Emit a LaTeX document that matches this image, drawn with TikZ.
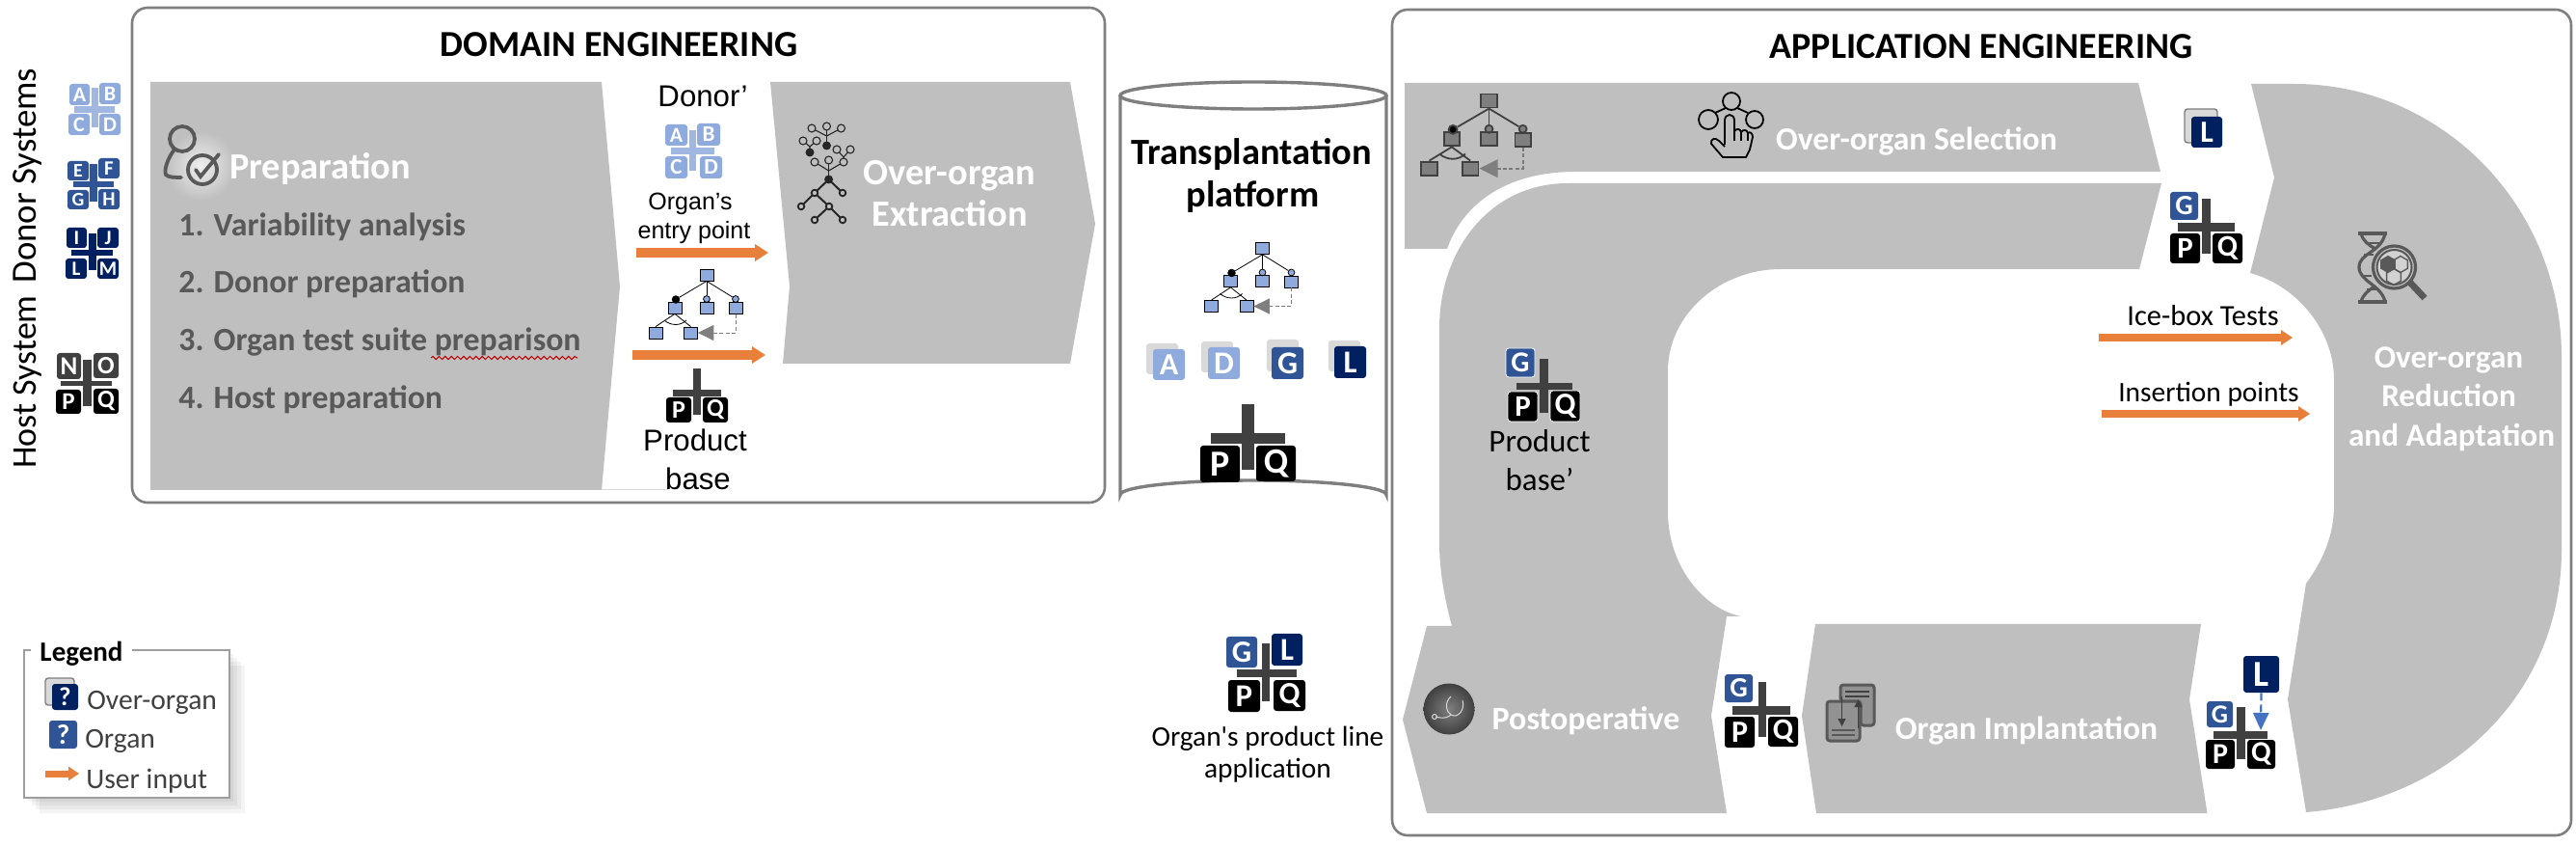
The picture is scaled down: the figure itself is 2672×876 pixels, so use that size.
\documentclass[tikz,border=0pt]{standalone}
\usepackage{fontspec}
\setmainfont{Carlito}
\newfontfamily\arialf{Liberation Sans}
\usetikzlibrary{arrows.meta,decorations.pathmorphing}
\definecolor{bandgray}{HTML}{BFBFBF}
\definecolor{boxgray}{HTML}{7F7F7F}
\definecolor{lblue}{HTML}{8FAADC}
\definecolor{mblue}{HTML}{2F5597}
\definecolor{dblue}{HTML}{002060}
\definecolor{crossdk}{HTML}{404040}
\definecolor{orangea}{HTML}{E8803C}
\definecolor{icondk}{HTML}{595959}
\definecolor{ghost}{HTML}{D9D9D9}
\definecolor{arrblue}{HTML}{4472C4}
\tikzset{
  txt/.style={anchor=base,inner sep=0pt,align=center},
  band/.style={fill=bandgray,draw=none},
  frame/.style={draw=boxgray,line width=1.3pt,rounded corners=8pt},
  tiletype/.style={inner sep=0pt,rounded corners=1.5pt,text=white,font=\bfseries}
}
\newcommand\fz[1]{\fontsize{#1}{#1}\selectfont}
% [extra]{name}{x1}{y1}{x2}{y2}{colour}{letter}
\newcommand\tile[8][]{%
  \pgfmathsetmacro\tw{(#5-#3)*0.5}\pgfmathsetmacro\th{(#6-#4)*0.5}%
  \pgfmathsetmacro\tf{(#6-#4)*0.5}%
  \node[tiletype,fill=#7,minimum width=\tw pt,minimum height=\th pt,#1] (#2) at ({(#3+#5)/2},{(#4+#6)/2}) {\fz{\tf}#8};}
% colour, vertical bar x1 y1 x2 y2, horizontal bar x1 y1 x2 y2
\newcommand\crossbars[9]{%
  \fill[#1] (#2,#3) rectangle (#4,#5);
  \fill[#1] (#6,#7) rectangle (#8,#9);}
% name x1 x2 y shaft headlen headwidth (pt)
\newcommand\oarrow[7]{%
  \coordinate (#1a) at (#2,#4); \coordinate (#1b) at (#3,#4);
  \draw[orangea,line width=#5pt,-{Triangle[length=#6pt,width=#7pt]}] (#1a) -- (#1b);}
% prefix x y scale fill stroke lw
\newcommand\featdiag[7]{%
  \pgfmathsetmacro\fdl{#4*8.2}\pgfmathsetmacro\fdw{#4*8}%
  \begin{scope}[shift={(#2,#3)},scale=#4,transform shape]
    \tikzset{fb/.style={draw=#6,fill=#5,line width=#7,minimum width=7pt,minimum height=6pt,inner sep=0pt},
             fp/.style={draw=#6,circle,line width=#7,minimum size=3.4pt,inner sep=0pt}}
    \node[fb] (#1r) at (0,0) {};
    \node[fb] (#1a) at (-33,34) {};
    \node[fb] (#1b) at (0,34) {};
    \node[fb] (#1c) at (30,34.5) {};
    \node[fb] (#1d) at (-53,60) {};
    \node[fb] (#1e) at (-16.5,60) {};
    \node[fp,fill=black,minimum size=3.8pt] (#1p) at (-32,25.5) {};
    \node[fp,fill=#5] (#1q) at (0,25) {};
    \node[fp,fill=#5] (#1s) at (30,25) {};
    \draw[#6,line width=#7] (#1r.south) -- (#1p);
    \draw[#6,line width=#7] (#1r.south) -- (#1q);
    \draw[#6,line width=#7] (#1r.south) -- (#1s);
    \draw[#6,line width=#7] (#1q) -- (#1b);
    \draw[#6,line width=#7] (#1s) -- (#1c);
    \draw[#6,line width=#7] (#1a.south) -- (#1d.north);
    \draw[#6,line width=#7] (#1a.south) -- (#1e.north);
    \draw[#6,line width=#7] (-44,47) .. controls (-37,53) and (-27,53) .. (-21,47);
    \draw[icondk!80,line width=#7,dash pattern=on 2pt off 1.2pt,-{Triangle[length=\fdl pt,width=\fdw pt,color=boxgray]}]
      (#1c.south) |- (#1e.east);
  \end{scope}}
\newcommand\hexa[4]{\draw[#4,shift={(#1,#2)}] (30:#3)--(90:#3)--(150:#3)--(210:#3)--(270:#3)--(330:#3)--cycle;}
\begin{document}
\begin{tikzpicture}[x=0.5pt,y=-0.5pt]
\useasboundingbox (0,0) rectangle (2672,876);
\fill[white] (0,0) rectangle (2672,876);

% ---- frames
\draw[frame] (137,8) rectangle (1146,521);
\draw[frame] (1444,10) rectangle (2667,866);
\node[txt,font=\bfseries\fz{19}] (domtitle) at (642,59) {DOMAIN ENGINEERING};
\node[txt,font=\bfseries\fz{19}] (apptitle) at (2055,61) {APPLICATION ENGINEERING};

% ---- left labels
\node[txt,rotate=90,font=\fz{18.4}] (donors) at (37,182) {Donor Systems};
\node[txt,rotate=90,font=\fz{18}] (hosts) at (37,396) {Host System};

\crossbars{lblue!85!white}{95}{91}{102}{132}{77}{110}{119}{117}
\tile{ta}{72}{87}{93}{109}{lblue}{A}
\tile{tb}{103}{86}{125}{108}{lblue}{B}
\tile{tc}{71}{118}{93}{140}{lblue}{C}
\tile{td}{103}{118}{125}{140}{lblue}{D}
\crossbars{mblue}{93}{170}{101}{209}{76}{188}{118}{194}
\tile{te}{70}{167}{92}{187}{mblue}{E}
\tile{tf}{102}{164}{124}{185}{mblue}{F}
\tile{tg}{70}{197}{92}{217}{mblue}{G}
\tile{th}{102}{196}{124}{217}{mblue}{H}
\crossbars{dblue}{92}{242}{100}{280}{74}{259}{117}{265}
\tile{ti}{69}{236}{90}{257}{dblue}{I}
\tile{tj}{101}{236}{123}{257}{dblue}{J}
\tile{tl}{68}{268}{90}{289}{dblue}{L}
\tile{tm}{101}{268}{123}{289}{dblue}{M}
\crossbars{crossdk}{86}{373}{95}{421}{63}{395}{116}{400}
\tile{tn}{59}{366}{84}{393}{crossdk}{N}
\tile{to}{97}{366}{123}{392}{crossdk}{O}
\tile{tp}{58}{404}{84}{429}{black}{P}
\tile{tq}{97}{403}{123}{429}{black}{Q}

% ---- Preparation
\fill[band] (156,85) -- (624,85) -- (643,297) -- (624,508) -- (156,508) -- cycle;
\draw[ghost,line width=0.5pt] (624,508) -- (693,508);
\shade[inner color=white!75!bandgray,outer color=bandgray] (208,172) circle (36);
\draw[icondk,line width=1.9pt] (189,144) circle (13);
\draw[icondk,line width=1.9pt,line cap=round] (181,155) .. controls (173,165) and (170,178) .. (172,181) .. controls (174,184) and (182,184) .. (188,184);
\draw[icondk,line width=1.9pt] (210,176) circle (15);
\draw[icondk,line width=1.9pt,line cap=round] (203,176) -- (208,183) -- (227,160);
\node[txt,text=white,font=\bfseries\fz{19.2}] (prep) at (332,186) {Preparation};
\tikzset{stepitem/.style={anchor=base west,inner sep=0pt,text=icondk,font=\bfseries\fz{16.9}}}
\node[stepitem] (s1) at (185,245) {1. Variability analysis};
\node[stepitem] (s2) at (185,304) {2. Donor preparation};
\node[stepitem] (s3) at (185,364) {3. Organ test suite preparison};
\node[stepitem] (s4) at (185,424) {4. Host preparation};
\coordinate (wavya) at (447,371); \coordinate (wavyb) at (599,371);
\draw[red!75!black,line width=0.5pt,decorate,decoration={snake,amplitude=0.8pt,segment length=3.2pt}] (wavya) -- (wavyb);

% ---- middle of domain
\node[txt,font=\arialf\fz{15.6}] (donorp) at (729,111) {Donor’};
\crossbars{lblue!85!white}{715}{135}{722}{177}{696}{153}{741}{160}
\tile{dta}{690}{129}{713}{151}{lblue}{A}
\tile{dtb}{723}{128}{747}{151}{lblue}{B}
\tile{dtc}{690}{162}{713}{185}{lblue}{C}
\tile{dtd}{726}{162}{749}{185}{lblue}{D}
\node[txt,font=\arialf\fz{12.5}] (orgen) at (716,218) {Organ’s};
\node[txt,font=\arialf\fz{12.5}] (entry) at (720,248) {entry point};
\oarrow{oa}{660}{797}{262}{4.6}{7}{8.5}
\featdiag{fa}{733}{285}{1}{lblue}{black}{0.4pt}
\oarrow{ob}{656}{794}{368}{4.6}{7}{8.5}
\crossbars{crossdk}{719}{382}{727}{430}{698}{404}{748}{411}
\tile{dtp}{691}{412}{717}{438}{black}{P}
\tile{dtq}{729}{412}{755}{438}{black}{Q}
\node[txt,font=\arialf\fz{15.6}] (prod) at (721,468) {Product};
\node[txt,font=\arialf\fz{15.6}] (base) at (724,508) {base};

% ---- Extraction
\fill[band] (799,85) -- (1110,85) -- (1136,232) -- (1110,377) -- (812,377) -- (819,297) -- cycle;
\begin{scope}[draw=black!85,line width=0.55pt]
  \draw (857.5,151) -- (857.5,131); \draw (857.5,141) -- (842,133); \draw (857.5,141) -- (872.5,133);
  \draw (840,158) -- (840,152) -- (833,146); \draw (840,152) -- (847,146);
  \draw (875,168) -- (875,163) -- (868,155); \draw (875,163) -- (882,155);
  \draw (859.6,186) -- (859.6,166); \draw (859.6,177) -- (845,168); \draw (859.6,177) -- (875,168);
  \draw[line width=1pt] (859.6,186) -- (845,200) -- (831,214);
  \draw[line width=1pt] (859.6,186) -- (874,200);
  \draw[line width=1pt] (845,200) -- (860,214) -- (845,228);
  \draw[line width=1pt] (860,214) -- (874,228);
  \foreach \px/\py in {842/133,857.5/131,872.5/133,833/146,847/146,868/155,882/155,845/168,859.6/166,875/168}
    \draw[fill=bandgray] (\px,\py) circle (4);
  \foreach \px/\py in {845/200,874/200,831/214,860/214,845/228,874/228}
    \draw[fill=bandgray,line width=0.9pt] (\px,\py) circle (3.3);
  \foreach \px/\py in {857.5/151,840/158,859.6/186}
    \fill[black!85] (\px,\py) circle (4.5);
\end{scope}
\node[txt,text=white,font=\bfseries\fz{19.2}] (ext1) at (985,192) {Over-organ};
\node[txt,text=white,font=\bfseries\fz{19.2}] (ext2) at (985,235) {Extraction};

% ---- Cylinder
\draw[boxgray,line width=1.7pt] (1162,99) -- (1162,513) arc[start angle=180,end angle=360,x radius=138,y radius=15] -- (1438,99);
\draw[boxgray,line width=1.7pt] (1300,99) ellipse [x radius=138,y radius=14];
\node[txt,font=\bfseries\fz{19.2}] (plat1) at (1298,171) {Transplantation};
\node[txt,font=\bfseries\fz{19.2}] (plat2) at (1299.5,215) {platform};
\featdiag{fb}{1309.5}{257.5}{1}{lblue}{black}{0.4pt}
\tile{sa}{1189}{356}{1222}{388}{ghost}{}
\tile{pa}{1196}{362}{1229}{394}{lblue}{A}
\tile{sd}{1246}{354}{1279}{386}{ghost}{}
\tile{pd}{1253}{360}{1286}{393}{lblue}{D}
\tile{sg}{1314}{352}{1347}{385}{ghost}{}
\tile{pg}{1319}{360}{1352}{393}{mblue}{G}
\tile{sl}{1378}{353}{1411}{385}{ghost}{}
\tile{pl}{1384}{359}{1417}{392}{dblue}{L}
\crossbars{crossdk}{1288}{419}{1301}{487}{1256}{449}{1333}{460}
\tile{pp}{1245}{462}{1286}{500}{black}{P}
\tile{pq}{1303}{462}{1344}{499}{black}{Q}

% ---- Organ's product line application
\crossbars{crossdk}{1309}{667}{1317}{727}{1283}{694}{1345}{702}
\tile{ag}{1272}{660}{1304}{692}{mblue}{G}
\tile{al}{1319}{657}{1351}{690}{dblue}{L}
\tile{ap}{1274}{705}{1307}{738}{black}{P}
\tile{aq}{1321}{705}{1354}{737}{black}{Q}
\node[txt,font=\fz{14.7}] (opl1) at (1315,773) {Organ\textquotesingle s product line};
\node[txt,font=\fz{14.7}] (opl2) at (1315,806) {application};

% ---- Application bands
\fill[band] (1457,86) -- (2218,86) -- (2241,178) -- (1634,178) .. controls (1570,178) and (1520,205) .. (1501,258) -- (1457,258) -- cycle;
\fill[band] (2242,190) -- (2219,279) -- (1847,279) .. controls (1785,279) and (1730,325) .. (1730,385) -- (1730,530)
  .. controls (1730,590) and (1770,632) .. (1806,639) -- (1791,639) -- (1775,742) -- (1791,843) -- (1480,843) -- (1455,746) -- (1480,649) -- (1506,649)
  .. controls (1498,620) and (1493,590) .. (1493,563) -- (1493,340) .. controls (1493,260) and (1545,190) .. (1626,190) -- cycle;
\fill[band] (1883,647) -- (2283,647) -- (2271,725) -- (2289.5,843) -- (1884,843) -- (1869,742) -- cycle;
\fill[band] (2335,87) -- (2380,87) .. controls (2533,87) and (2657,214) .. (2657,370) -- (2657,570)
  .. controls (2657,720) and (2540,830) .. (2392,842) -- (2373,725) -- (2392,605)
  .. controls (2410,580) and (2421,555) .. (2421,523) -- (2421,393)
  .. controls (2421,345) and (2385,297) .. (2334,283) -- (2359,184) -- cycle;

\featdiag{fc}{1544.5}{104.5}{1.17}{boxgray}{crossdk}{0.9pt}

% Selection icon
\begin{scope}[draw=black,line width=0.9pt]
  \draw (1796,105) circle (9);
  \draw (1772,124) circle (10);
  \draw (1820,124) circle (9);
  \draw (1790,112) -- (1779,117); \draw (1802,112) -- (1813,117);
  \draw[fill=bandgray,line join=round] (1789,150) -- (1789,125) .. controls (1789,117) and (1799,117) .. (1799,125) -- (1799,136)
    .. controls (1801,133) and (1805,133) .. (1806,137) .. controls (1808,134) and (1812,134) .. (1813,138) .. controls (1815,136) and (1818,138) .. (1818,142)
    -- (1815,155) -- (1811,163) -- (1787,163) -- (1775,149) .. controls (1774,144) and (1779,142) .. (1783,146) -- (1789,152);
  \draw (1799,136) -- (1799,146); \draw (1806,137) -- (1806,146); \draw (1813,138) -- (1813,146);
\end{scope}
\node[txt,text=white,font=\bfseries\fz{16.8}] (sel) at (1988,156) {Over-organ Selection};

% selection output L
\node[inner sep=0pt,rounded corners=1.5pt,fill=ghost,draw=boxgray,line width=0.7pt,minimum width=17pt,minimum height=17.5pt] (ls) at (2283,130.5) {};
\tile{le}{2273}{121}{2305}{153}{dblue}{L}
\crossbars{crossdk}{2284}{206}{2293}{263}{2259}{231}{2318}{240}
\tile{tg2}{2251}{199}{2280}{228}{mblue}{G}
\tile{tp2}{2251}{242}{2282}{273}{black}{P}
\tile{tq2}{2295}{242}{2326}{273}{black}{Q}

% Product base'
\crossbars{crossdk}{1597}{372}{1606}{428}{1572.5}{397}{1631}{404}
\tile[draw=white,line width=0.4pt]{tg3}{1562}{361}{1592}{391}{mblue}{G}
\tile[draw=white,line width=0.4pt]{tp3}{1564}{406}{1595}{437}{black}{P}
\tile[draw=white,line width=0.4pt]{tq3}{1608}{405}{1639}{437}{black}{Q}
\node[txt,font=\fz{16.5}] (pb1) at (1597,469) {Product};
\node[txt,font=\fz{16.5}] (pb2) at (1597,509) {base’};

% Ice-box / insertion
\node[txt,font=\fz{15.2}] (ice) at (2285,338) {Ice-box Tests};
\oarrow{oc}{2177}{2378}{350}{3.6}{6}{7.5}
\node[txt,font=\fz{14.7}] (ins) at (2291,417) {Insertion points};
\oarrow{od}{2180}{2396}{429}{3.8}{6}{7.5}

% DNA icon
\begin{scope}[draw=icondk,line width=1.6pt]
  \draw (2474,242) .. controls (2470,262) and (2447,262) .. (2447,277) .. controls (2447,292) and (2470,295) .. (2474,313);
  \draw (2449,242) .. controls (2451,250) and (2457,254) .. (2464,258);
  \draw (2449,313) .. controls (2451,305) and (2457,301) .. (2463,297);
  \draw[line width=2pt] (2446,242) -- (2476,242); \draw[line width=2pt] (2446,313) -- (2476,313);
  \draw[line width=1pt] (2456,252) -- (2470,252); \draw[line width=1pt] (2452,264) -- (2462,264);
  \draw[line width=1pt] (2450,286) -- (2460,286); \draw[line width=1pt] (2455,300) -- (2468,300);
  \draw[line width=1.6pt] (2483.5,277) circle (22);
  \draw[line width=1pt,fill=bandgray!70!white] (2483.5,277) circle (18);
  \hexa{2477}{274}{8.5}{fill=icondk,draw=icondk,line width=0.5pt}
  \hexa{2490}{274}{8.5}{draw=icondk,line width=0.7pt}
  \hexa{2483}{287}{8.5}{draw=icondk,line width=0.7pt}
  \draw[line width=3.4pt] (2500,293) -- (2515,309);
\end{scope}
\node[txt,text=white,font=\bfseries\fz{16.6}] (red1) at (2540,382) {Over-organ};
\node[txt,text=white,font=\bfseries\fz{16.6}] (red2) at (2540,422) {Reduction};
\node[txt,text=white,font=\bfseries\fz{16.6}] (red3) at (2543,463) {and Adaptation};

% Postoperative
\shade[inner color=boxgray,outer color=crossdk] (1503,735) circle (26.5);
\begin{scope}[draw=ghost,line width=0.5pt]
  \draw (1505,722) .. controls (1498,728) and (1500,738) .. (1505,741) .. controls (1512,745) and (1520,736) .. (1517,726);
  \draw (1505,741) .. controls (1499,746) and (1494,744) .. (1489,743);
  \draw (1488,743) circle (2.5);
\end{scope}
\node[txt,text=white,font=\bfseries\fz{17}] (post) at (1645,756) {Postoperative};
\crossbars{crossdk}{1823.5}{707}{1831.5}{764}{1797}{732}{1857}{741}
\tile{tg4}{1789}{699}{1818}{728}{mblue}{G}
\tile{tp4}{1789}{743}{1820}{775}{black}{P}
\tile{tq4}{1834}{743}{1865}{774}{black}{Q}

% Implantation
\begin{scope}[draw=icondk,line width=1.5pt,rounded corners=1.5pt]
  \draw[fill=boxgray!70!bandgray] (1909,727) -- (1909,710) -- (1944,710) -- (1944,752) -- (1930,752) -- (1930,727) -- cycle;
  \draw[fill=boxgray!70!bandgray] (1909,727) -- (1895,727) -- (1895,768) -- (1929,768) -- (1929,745) -- (1929,727) -- cycle;
\end{scope}
\fill[crossdk] (1914,716) rectangle (1939,718); \fill[crossdk] (1914,721) rectangle (1939,723);
\fill[icondk] (1900,756) rectangle (1924,758); \fill[icondk] (1900,761) rectangle (1924,763);
\coordinate (impa) at (1910.5,722); \coordinate (impb) at (1910.5,753);
\coordinate (impc) at (1927.5,755); \coordinate (impd) at (1927.5,725);
\draw[crossdk,line width=0.7pt,-{Triangle[length=4pt,width=4pt]}] (impa) -- (impb);
\draw[crossdk,line width=0.7pt,-{Triangle[length=4pt,width=4pt]}] (impc) -- (impd);
\node[txt,text=white,font=\bfseries\fz{16.8}] (imp) at (2102,766) {Organ Implantation};

\crossbars{crossdk}{2320}{733}{2329}{787}{2296}{758}{2352}{766}
\tile{tl5}{2327}{680}{2364}{718}{dblue}{L}
\tile{tg5}{2289}{727}{2316}{754}{mblue}{G}
\tile{tp5}{2288}{767}{2318}{797}{black}{P}
\tile{tq5}{2331}{767}{2360}{797}{black}{Q}
\coordinate (lend) at (2345,757);
\draw[arrblue,line width=1.1pt,dash pattern=on 4pt off 2pt,-{Triangle[length=9pt,width=8pt]}] (tl5.south) -- (lend);

% ---- Legend
\begin{scope}[black,opacity=0.045]
  \foreach \d in {4,8,12,16}{\fill (25+\d,674+\d) rectangle (238+\d,827+\d);}
\end{scope}
\draw[fill=white,draw=black!38,line width=1pt] (25,674) rectangle (238,827);
\node[txt,fill=white,inner xsep=4.5pt,inner ysep=1pt,font=\bfseries\fz{14.5}] (leg) at (84.5,685) {Legend};
\node[inner sep=0pt,rounded corners=1.5pt,fill=ghost,draw=boxgray,line width=0.7pt,minimum width=15pt,minimum height=14pt] (ls2) at (62,717) {};
\tile{lg1}{54}{709}{81}{736}{dblue}{?}
\tile{lg2}{51}{747}{80}{776}{mblue}{?}
\oarrow{oe}{47}{82}{802}{3.5}{5.5}{7}
\tikzset{legitem/.style={anchor=base west,inner sep=0pt,text=crossdk,font=\fz{14.8}}}
\node[legitem] (l1) at (90,735) {Over-organ};
\node[legitem] (l2) at (88,775) {Organ};
\node[legitem] (l3) at (89,817) {User input};
\end{tikzpicture}
\end{document}
